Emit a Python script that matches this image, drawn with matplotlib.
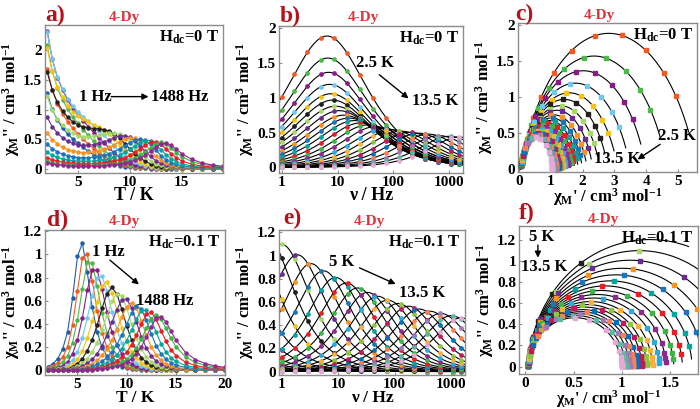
import numpy as np
import matplotlib.pyplot as plt

plt.rcParams['font.family'] = ['Liberation Serif', 'DejaVu Serif']
plt.rcParams['font.weight'] = 'bold'
plt.rcParams['axes.labelweight'] = 'bold'
plt.rcParams['mathtext.default'] = 'regular'

# temperatures of the ac measurements (K)
T_ac = [2.0, 2.5, 3.0, 3.5, 4.0, 4.5, 5.0, 5.5, 6.0, 6.5, 7.0, 7.5, 8.0, 8.5,
        9.0, 9.5, 10.0, 10.5, 11.0, 11.5, 12.0, 12.5, 13.0, 13.5, 14.0, 14.5,
        15.0, 16.0, 17.0, 18.0, 19.0, 20.0]
# isothermal susceptibility chi_T (cm3/mol), read from the Cole-Cole arcs
chi_T_0T = [7.00, 5.60, 4.67, 4.00, 3.50, 3.11, 2.80, 2.55, 2.33, 2.15, 2.00, 1.87,
            1.75, 1.65, 1.56, 1.47, 1.40, 1.33, 1.27, 1.22, 1.17, 1.12, 1.08, 1.04,
            1.00, 0.97, 0.93, 0.88, 0.82, 0.78, 0.74, 0.70]
chi_T_01T = [6.20, 5.00, 4.20, 3.60, 3.15, 2.82, 2.55, 2.33, 2.14, 1.98, 1.85, 1.73,
             1.63, 1.54, 1.46, 1.39, 1.32, 1.26, 1.21, 1.16, 1.12, 1.08, 1.04, 1.00,
             0.97, 0.94, 0.91, 0.86, 0.81, 0.77, 0.73, 0.69]
chi_S0 = 0.05
chi_S1 = 0.03
# frequency of the chi'' maximum (Hz), Hdc = 0 T
fmax_0T = [6.3, 6.5, 6.7, 6.9, 7.2, 7.6, 8.2, 9.2, 10.8, 13, 16, 20, 26, 35,
           48, 68, 95, 135, 195, 280, 420, 650, 1000, 1500, 2200, 3200,
           4500, 8000, 13000, 20000, 30000, 42000]
alpha_0T = [0.24, 0.24, 0.24, 0.23, 0.23, 0.23, 0.22, 0.22, 0.21, 0.21, 0.20, 0.19,
            0.18, 0.17, 0.16, 0.15, 0.14, 0.13, 0.12, 0.11, 0.10, 0.10, 0.09, 0.08,
            0.08, 0.08, 0.08, 0.08, 0.08, 0.08, 0.08, 0.08]
# Hdc = 0.1 T
fmax_01T = [0.004, 0.009, 0.02, 0.045, 0.1, 0.23, 0.5, 1.0, 1.9, 3.3, 5.5, 9, 14, 22,
            33, 50, 75, 115, 175, 270, 420, 650, 1000, 1500, 2200, 3200,
            4500, 8000, 13000, 20000, 30000, 42000]
alpha_01T = [0.05, 0.05, 0.05, 0.05, 0.04, 0.04, 0.03, 0.03, 0.03, 0.03, 0.03, 0.03,
             0.03, 0.03, 0.03, 0.03, 0.03, 0.03, 0.03, 0.03, 0.03, 0.03, 0.03, 0.03,
             0.03, 0.03, 0.03, 0.03, 0.03, 0.03, 0.03, 0.03]

freq_ac = [1, 1.7, 2.9, 5, 8.6, 14.7, 25, 43, 74, 127, 217, 372, 636, 1088, 1488]

T_b = [2.5, 13.5]   # range shown in b, c
T_e = [2.0, 13.5]
T_f = [5.0, 13.5]

colors = ['#1f5fa8', '#f15a24', '#4db848', '#8b1a89', '#6fc8f0', '#f6c40f', '#231f20',
          '#a6d96a', '#6a2c91', '#f7931e', '#1b75bc', '#00a79d', '#ed1c24', '#39b54a',
          '#92278f', '#29abe2', '#fbb03b', '#8cc63f', '#c2185b', '#0071bc', '#ff7f50',
          '#9e7bb5', '#5fb7a0', '#e6a8d7']
red_lab = '#b5121b'
red_dy = '#e0303a'


def debye(f, chiT, chiS, fm, alpha):
    wt = np.asarray(f, dtype=float) / fm
    z = chiS + (chiT - chiS) / (1 + (1j * wt) ** (1 - alpha))
    return z.real, -z.imag


def style(ax):
    for s in ax.spines.values():
        s.set_color('#8c8c8c')
        s.set_linewidth(1.0)
    ax.tick_params(direction='in', length=2.5, color='#8c8c8c', labelsize=11, pad=2)


fig = plt.figure(figsize=(7, 4.09), dpi=100)
W, H = 700, 409


def make_ax(x0, y0, x1, y1):
    return fig.add_axes([x0 / W, 1 - y1 / H, (x1 - x0) / W, (y1 - y0) / H])


axa = make_ax(45, 25, 223, 173)
axb = make_ax(279, 26, 463, 173)
axc = make_ax(518, 23, 697, 172)
axd = make_ax(45, 230, 225, 375)
axe = make_ax(279, 230, 465, 375)
axf = make_ax(519, 226, 698, 374)

ylab = "χ$_{M}$'' / cm$^{3}$ mol$^{-1}$"
xlab_c = "χ$_{M}$' / cm$^{3}$ mol$^{-1}$"

# ---- a) and d): chi'' vs T
for ax, chiT_list, fm_list, al_list, chiS in [(axa, chi_T_0T, fmax_0T, alpha_0T, chi_S0),
                                               (axd, chi_T_01T, fmax_01T, alpha_01T, chi_S1)]:
    for k, f in enumerate(freq_ac):
        vals = []
        for i in range(len(T_ac)):
            vals.append(debye(f, chiT_list[i], chiS, fm_list[i], al_list[i])[1])
        ax.plot(T_ac, vals, '-o', color=colors[k % len(colors)], lw=0.8, ms=2.2)

axa.set_xlim(1.8, 19)
axa.set_ylim(-0.07, 2.43)
axa.set_xticks([5, 10, 15])
axa.set_yticks([0, 0.5, 1, 1.5, 2], labels=['0', '0.5', '1', '1.5', '2'])
axd.set_xlim(1.7, 20)
axd.set_ylim(-0.04, 1.21)
axd.set_xticks([5, 10, 15, 20])
axd.set_yticks([0, 0.2, 0.4, 0.6, 0.8, 1, 1.2], labels=['0', '0.2', '0.4', '0.6', '0.8', '1', '1.2'])
axa.set_xlabel('T / K', fontsize=13, labelpad=-1)
axd.set_xlabel('T / K', fontsize=12.5, labelpad=-0.5)

# ---- b), c), e), f)
f_line = np.logspace(-0.1, 3.4, 300)
f_arc = np.logspace(np.log10(0.35), 6, 500)
for axv, axcc, chiT_list, fm_list, al_list, chiS, Tr_v, Tr_c in [
        (axb, axc, chi_T_0T, fmax_0T, alpha_0T, chi_S0, T_b, T_b),
        (axe, axf, chi_T_01T, fmax_01T, alpha_01T, chi_S1, T_e, T_f)]:
    for i, T in enumerate(T_ac):
        col = colors[i % len(colors)]
        args = (chiT_list[i], chiS, fm_list[i], al_list[i])
        if Tr_v[0] <= T <= Tr_v[1]:
            axv.plot(f_line, debye(f_line, *args)[1], color='black', lw=0.8, zorder=2)
            axv.plot(freq_ac, debye(freq_ac, *args)[1], 'o', color=col, ms=2.4, zorder=3)
        if Tr_c[0] <= T <= Tr_c[1]:
            x1, y1 = debye(f_arc, *args)
            axcc.plot(x1, y1, color='black', lw=0.8, zorder=2)
            x2, y2 = debye(freq_ac, *args)
            axcc.plot(x2, y2, 's', color=col, ms=2.6, zorder=3)

for ax in (axb, axe):
    ax.set_xscale('log')
    ax.set_xlim(0.9, 1750)
    ax.set_xticks([1, 10, 100, 1000], labels=['1', '10', '100', '1000'])
    ax.xaxis.set_minor_locator(plt.NullLocator())
axb.set_xlabel('ν / Hz', fontsize=13, labelpad=-1)
axe.set_xlabel('ν / Hz', fontsize=12.5, labelpad=-0.5)
axb.set_ylim(-0.08, 2.03)
axb.set_yticks([0, 0.5, 1, 1.5, 2], labels=['0', '0.5', '1', '1.5', '2'])
axe.set_ylim(-0.03, 1.22)
axe.set_yticks([0, 0.2, 0.4, 0.6, 0.8, 1, 1.2], labels=['0', '0.2', '0.4', '0.6', '0.8', '1', '1.2'])

axc.set_xlim(-0.03, 5.6)
axc.set_ylim(-0.045, 2.03)
axc.set_xticks([0, 1, 2, 3, 4, 5])
axc.set_yticks([0, 0.5, 1, 1.5, 2], labels=['0', '0.5', '1', '1.5', '2'])
axf.set_xlim(-0.066, 1.79)
axf.set_ylim(-0.07, 1.33)
axf.set_xticks([0, 0.5, 1, 1.5], labels=['0', '0.5', '1', '1.5'])
axf.set_yticks([0, 0.2, 0.4, 0.6, 0.8, 1, 1.2], labels=['0', '0.2', '0.4', '0.6', '0.8', '1', '1.2'])
axc.set_xlabel(xlab_c, fontsize=12, labelpad=-1)
axf.set_xlabel(xlab_c, fontsize=11.5, labelpad=-0.5)

for ax in (axa, axb, axc, axd, axe, axf):
    style(ax)
    ax.set_ylabel(ylab, fontsize=12, labelpad=1)

# field labels
for ax, txt in [(axa, 'H$_{dc}$=0 T'), (axb, 'H$_{dc}$=0 T'), (axc, 'H$_{dc}$=0 T'),
                (axd, 'H$_{dc}$=0.1 T'), (axe, 'H$_{dc}$=0.1 T'), (axf, 'H$_{dc}$=0.1 T')]:
    ax.text(0.975, 0.975, txt, transform=ax.transAxes, ha='right', va='top', fontsize=12)

arrow = dict(arrowstyle='-|>', color='black', lw=1.0, mutation_scale=9, shrinkA=0, shrinkB=0)
# a)
axa.text(5.1, 1.22, '1 Hz', ha='left', va='center', fontsize=12)
axa.annotate('', xy=(11.8, 1.22), xytext=(8.2, 1.22), arrowprops=arrow)
axa.text(12.0, 1.22, '1488 Hz', ha='left', va='center', fontsize=12)
# b)
axb.text(46, 1.5, '2.5 K', ha='center', va='center', fontsize=12)
axb.annotate('', xy=(186, 0.99), xytext=(56, 1.33), arrowprops=arrow)
axb.text(560, 0.96, '13.5 K', ha='center', va='center', fontsize=12)
# c)
axc.text(4.97, 0.46, '2.5 K', ha='center', va='center', fontsize=12)
axc.annotate('', xy=(3.73, 0.13), xytext=(4.44, 0.34), arrowprops=arrow)
axc.text(3.08, 0.14, '13.5 K', ha='center', va='center', fontsize=12)
# d)
axd.text(8.1, 1.02, '1 Hz', ha='center', va='center', fontsize=12)
axd.annotate('', xy=(11.25, 0.74), xytext=(8.3, 0.95), arrowprops=arrow)
axd.text(13.9, 0.6, '1488 Hz', ha='center', va='center', fontsize=12)
# e)
axe.text(11.7, 0.94, '5 K', ha='center', va='center', fontsize=12)
axe.annotate('', xy=(104, 0.754), xytext=(23.8, 0.894), arrowprops=arrow)
axe.text(310, 0.68, '13.5 K', ha='center', va='center', fontsize=12)
# f)
axf.text(0.166, 1.23, '5 K', ha='center', va='center', fontsize=12)
axf.annotate('', xy=(0.13, 1.03), xytext=(0.13, 1.15), arrowprops=arrow)
axf.text(0.19, 0.94, '13.5 K', ha='center', va='center', fontsize=12)

# panel letters and compound names
for lab, x, y in [('a)', 45, 15), ('b)', 280, 16), ('c)', 515, 14), ('d)', 47, 220),
                  ('e)', 283, 218), ('f)', 519, 213)]:
    fig.text(x / W, 1 - y / H, lab, ha='left', va='center', fontsize=17, color=red_lab)
for x, y in [(124, 18), (363, 18), (599, 16), (124, 222), (369, 222), (603, 219)]:
    fig.text(x / W, 1 - y / H, '4-Dy', ha='center', va='center', fontsize=11, color=red_dy)

fig.savefig('out.png', dpi=100)
